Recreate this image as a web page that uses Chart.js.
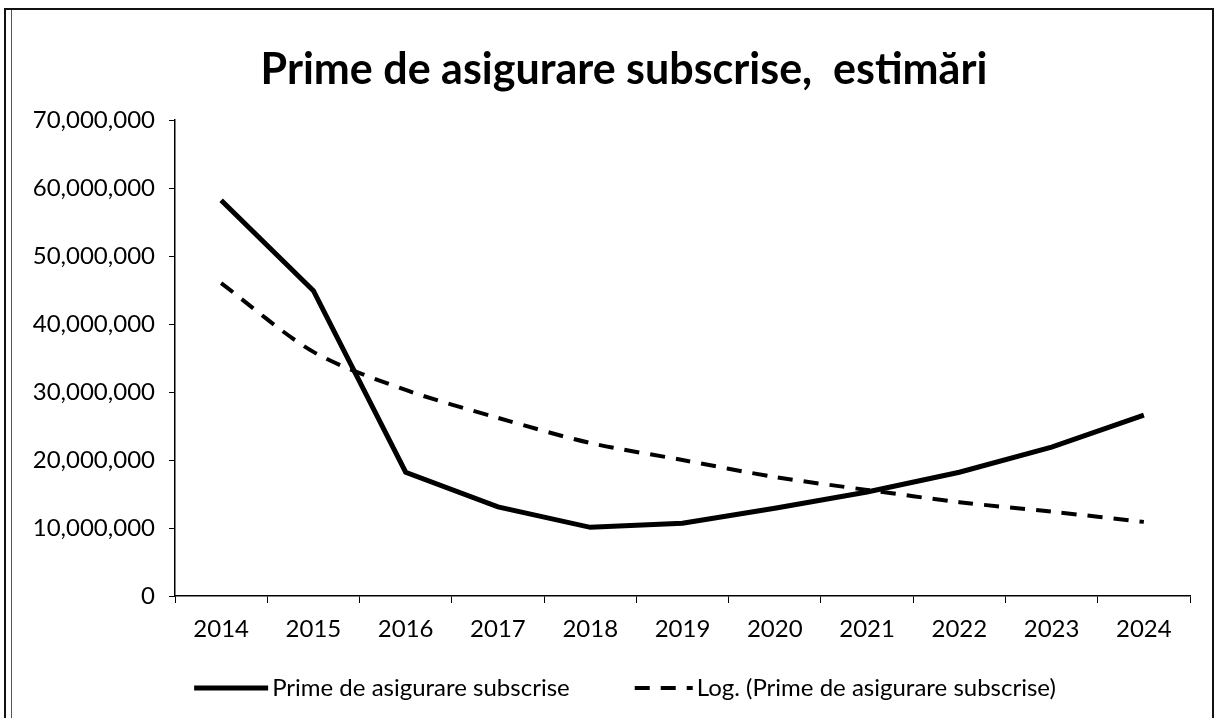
<!DOCTYPE html>
<html>
<head>
<meta charset="utf-8">
<script src="https://cdn.jsdelivr.net/npm/chart.js@4/dist/chart.umd.min.js"></script>
<style>
  html, body { margin: 0; padding: 0; background: #fff; }
  #wrap { position: relative; width: 1216px; height: 718px; }
  #frame { position: absolute; left: 4px; top: 8px; width: 1206px; height: 730px; border: 2px solid #111; pointer-events: none; }
  #frame2 { position: absolute; left: 11px; top: 10px; width: 0; height: 720px; border-left: 1px solid #555; pointer-events: none; }
</style>
</head>
<body>
<div id="wrap">
  <canvas id="myChartPrime"></canvas>
  <div id="frame"></div>
  <div id="frame2"></div>
</div>
<script>
// Prime de asigurare - START
const years = ['2014', '2015', '2016', '2017', '2018', '2019', '2020', '2021', '2022', '2023', '2024'];
const prime = [58200000, 44900000, 18200000, 13100000, 10100000, 10700000, 12900000, 15300000, 18200000, 21900000, 26600000];
const primeLog = [46000000, 35900000, 30300000, 26200000, 22500000, 20000000, 17500000, 15600000, 13800000, 12400000, 10900000];
const chartTitle = 'Prime de asigurare subscrise,  estimări';

const font = "Lato, 'Open Sans', sans-serif";

// title + legend drawn by hand: title sits a bit right of center,
// and the legend needs the dashed line like in the excel one
const excelLook = {
    id: 'excelLook',
    afterDraw(chart) {
        const ctx = chart.ctx;
        ctx.save();
        ctx.fillStyle = '#000';
        ctx.font = 'bold 43px ' + font;
        ctx.textAlign = 'center';
        ctx.textBaseline = 'middle';
        ctx.fillText(chartTitle, 624, 70);

        const sets = chart.data.datasets;
        const lineW = [74, 58];
        const gap = 4;
        const itemGap = 65;
        ctx.font = '24px ' + font;
        ctx.textAlign = 'left';
        let total = 0;
        sets.forEach((ds, i) => {
            total += lineW[i] + gap + ctx.measureText(ds.label).width;
        });
        total += itemGap;
        let x = chart.width / 2 + 17 - total / 2;
        const y = 688;
        sets.forEach((ds, i) => {
            ctx.beginPath();
            ctx.strokeStyle = ds.borderColor;
            ctx.lineWidth = ds.borderWidth;
            ctx.setLineDash(ds.borderDash || []);
            ctx.moveTo(x, y);
            ctx.lineTo(x + lineW[i], y);
            ctx.stroke();
            x += lineW[i] + gap;
            ctx.fillText(ds.label, x, y);
            x += ctx.measureText(ds.label).width + itemGap;
        });
        ctx.restore();
    }
};

const primeData = {
    labels: years,
    datasets: [
        {
            label: 'Prime de asigurare subscrise',
            data: prime,
            borderColor: '#000',
            borderWidth: 5,
            pointRadius: 0,
            tension: 0
        },
        {
            label: 'Log. (Prime de asigurare subscrise)',
            data: primeLog,
            borderColor: '#000',
            borderWidth: 4,
            borderDash: [15, 11],
            pointRadius: 0,
            tension: 0.3
        }
    ]
};

const primeConfig = {
    type: 'line',
    data: primeData,
    plugins: [excelLook],
    options: {
        responsive: true,
        maintainAspectRatio: false,
        animation: false,
        layout: { padding: { left: 0, right: 26, top: 120, bottom: 66 } },
        plugins: {
            legend: { display: false },
            title: { display: false },
            tooltip: { enabled: false }
        },
        scales: {
            x: {
                offset: true,
                grid: { offset: true, drawOnChartArea: false, drawTicks: true, tickLength: 7, color: '#000' },
                border: { display: true, color: '#000', width: 1.5 },
                ticks: { color: '#000', padding: 12, font: { family: font, size: 24 } },
                afterFit: function (scale) { scale.height = 56; }
            },
            y: {
                min: 0,
                max: 70000000,
                ticks: {
                    stepSize: 10000000,
                    color: '#000',
                    padding: 14,
                    font: { family: font, size: 24 },
                    callback: function (value) { return value.toLocaleString('en-US'); }
                },
                grid: { drawOnChartArea: false, drawTicks: true, tickLength: 6, color: '#000' },
                border: { display: true, color: '#000', width: 1.5 },
                afterFit: function (scale) { scale.width = 175; }
            }
        }
    }
};

new Chart("myChartPrime", primeConfig);
// Prime de asigurare - END
</script>
</body>
</html>
